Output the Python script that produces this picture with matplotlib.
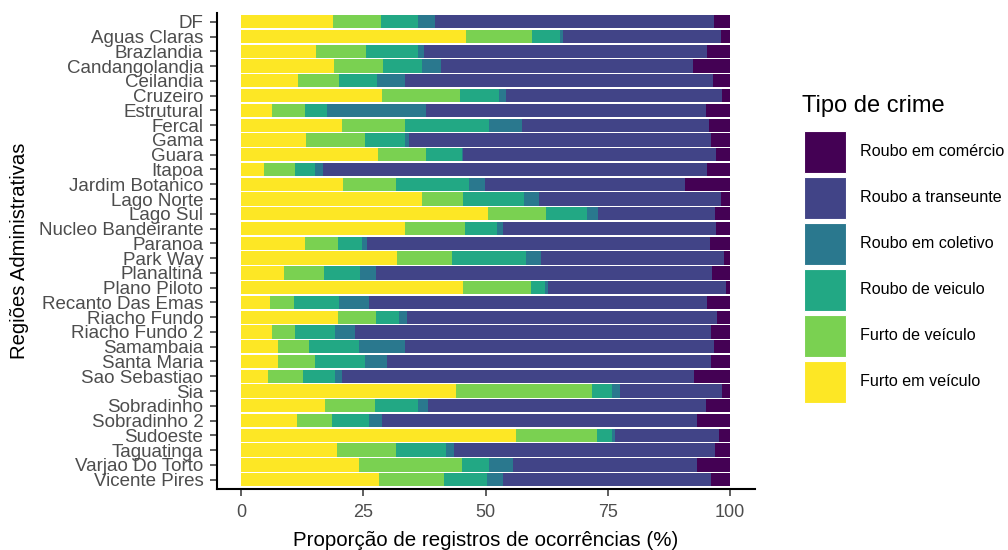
import matplotlib
matplotlib.use("Agg")
import matplotlib.pyplot as plt
from matplotlib.patches import Rectangle
import numpy as np

plt.rcParams["font.family"] = ["Liberation Sans", "DejaVu Sans"]

regions = [
    "DF", "Aguas Claras", "Brazlandia", "Candangolandia", "Ceilandia",
    "Cruzeiro", "Estrutural", "Fercal", "Gama", "Guara", "Itapoa",
    "Jardim Botanico", "Lago Norte", "Lago Sul", "Nucleo Bandeirante",
    "Paranoa", "Park Way", "Planaltina", "Plano Piloto", "Recanto Das Emas",
    "Riacho Fundo", "Riacho Fundo 2", "Samambaia", "Santa Maria",
    "Sao Sebastiao", "Sia", "Sobradinho", "Sobradinho 2", "Sudoeste",
    "Taguatinga", "Varjao Do Torto", "Vicente Pires",
]

# Share of records (%) per crime type, one value per region above
furto_em_veiculo = [18.9, 46.0, 15.3, 19.1, 11.7, 28.8, 6.3, 20.7, 13.4, 28.1, 4.8,
                    20.9, 37.0, 50.5, 33.5, 13.0, 31.9, 8.8, 45.4, 5.9,
                    19.8, 6.3, 7.6, 7.6, 5.6, 44.0, 17.2, 11.5, 56.2,
                    19.7, 24.1, 28.2]
furto_de_veiculo = [9.7, 13.6, 10.3, 10.0, 8.3, 16.0, 6.8, 12.8, 12.0, 9.8, 6.3,
                    10.8, 8.5, 11.9, 12.3, 6.8, 11.2, 8.2, 13.9, 5.0,
                    7.8, 4.7, 6.4, 7.5, 7.1, 27.8, 10.3, 7.1, 16.5,
                    11.9, 21.1, 13.4]
roubo_de_veiculo = [7.5, 5.6, 10.5, 7.9, 7.8, 8.0, 4.5, 17.3, 8.1, 7.2, 4.0,
                    14.9, 12.4, 8.4, 6.6, 4.9, 15.2, 7.3, 2.9, 9.1,
                    4.8, 8.2, 10.1, 10.3, 6.5, 4.1, 8.6, 7.5, 3.2,
                    10.3, 5.5, 8.7]
roubo_em_coletivo = [3.6, 0.7, 1.3, 3.9, 5.7, 1.4, 20.2, 6.7, 0.9, 0.4, 1.7,
                     3.2, 3.0, 2.1, 1.2, 1.0, 3.0, 3.4, 0.6, 6.2,
                     1.5, 4.2, 9.4, 4.4, 1.5, 1.7, 2.1, 2.7, 0.6,
                     1.7, 5.0, 3.2]
roubo_a_transeunte = [57.0, 32.3, 57.9, 51.5, 63.1, 44.1, 57.2, 38.1, 61.7, 51.6, 78.4,
                      41.0, 37.3, 24.1, 43.5, 70.3, 37.5, 68.7, 36.3, 69.1,
                      63.4, 72.8, 63.2, 66.3, 71.9, 20.7, 56.8, 64.5, 21.3,
                      53.4, 37.6, 42.7]
roubo_em_comercio = [3.3, 1.8, 4.7, 7.6, 3.4, 1.7, 5.0, 4.4, 3.9, 2.9, 4.8,
                     9.2, 1.8, 3.0, 2.9, 4.0, 1.2, 3.6, 0.9, 4.7,
                     2.7, 3.8, 3.3, 3.9, 7.4, 1.7, 5.0, 6.7, 2.2,
                     3.0, 6.7, 3.8]

crime_types = ["Furto em veículo", "Furto de veículo", "Roubo de veiculo",
               "Roubo em coletivo", "Roubo a transeunte", "Roubo em comércio"]
series = [furto_em_veiculo, furto_de_veiculo, roubo_de_veiculo,
          roubo_em_coletivo, roubo_a_transeunte, roubo_em_comercio]
colors = ["#FDE725", "#7AD151", "#22A884", "#2A788E", "#414487", "#440154"]

W, H = 1008, 550
fig = plt.figure(figsize=(W / 100, H / 100), dpi=100)
ax = fig.add_axes([216.5 / W, 1 - 488.5 / H, (754.5 - 216.5) / W, (488.5 - 12.9) / H])

n = len(regions)
ypos = np.arange(n)[::-1]
left = np.zeros(n)
for vals, col in zip(series, colors):
    vals = np.asarray(vals)
    ax.barh(ypos, vals, left=left, height=0.9, color=col, edgecolor="none")
    left += vals

ax.set_xlim(-5, 105)
ax.set_ylim(-0.6, n - 1 + 0.6)
ax.set_yticks(ypos)
ax.set_yticklabels(regions)
ax.set_xticks([0, 25, 50, 75, 100])
ax.set_xticklabels(["0", "25", "50", "75", "100"])

for side in ["top", "right"]:
    ax.spines[side].set_visible(False)
for side in ["left", "bottom"]:
    ax.spines[side].set_linewidth(1.5)
    ax.spines[side].set_color("black")
ax.tick_params(axis="both", length=5, width=1.1, color="#333333",
               labelcolor="#4D4D4D")
ax.tick_params(axis="y", labelsize=13.5, pad=4.5)
ax.tick_params(axis="x", labelsize=13, pad=6)

ax.set_xlabel("Proporção de registros de ocorrências (%)", fontsize=14.8,
              color="black", labelpad=7)
ax.set_ylabel("Regiões Administrativas", fontsize=14.6, color="black", labelpad=7)

# Legend drawn in figure pixel coordinates, darkest class on top
fig.text(802 / W, 1 - 106 / H, "Tipo de crime", fontsize=17, color="black",
         ha="left", va="center")
key_top = 130.7
for i, (lab, col) in enumerate(zip(crime_types[::-1], colors[::-1])):
    top = key_top + i * 46
    fig.add_artist(Rectangle((804 / W, 1 - (top + 42) / H), 42 / W, 42 / H,
                             transform=fig.transFigure, facecolor=col,
                             edgecolor="white", linewidth=0.8))
    fig.text(860 / W, 1 - (top + 21) / H, lab, fontsize=11.6, color="black",
             ha="left", va="center")

fig.savefig("out.png", dpi=100)
